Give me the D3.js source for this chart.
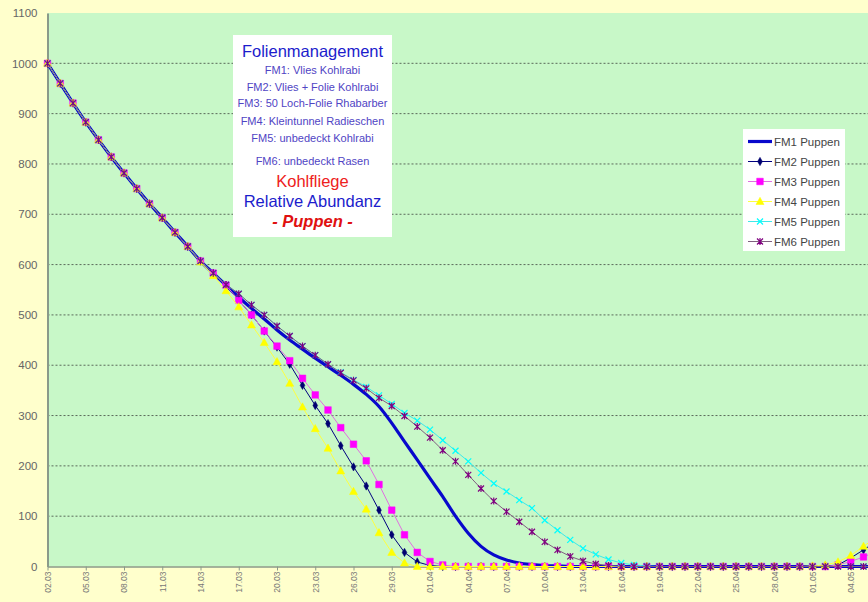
<!DOCTYPE html>
<html>
<head>
<meta charset="utf-8">
<script src="https://cdn.jsdelivr.net/npm/d3@7"></script>
<style>
  body { margin: 0; background: #ffffcc; }
  text { font-family: "Liberation Sans", Arial, sans-serif; }
</style>
</head>
<body>
<script>

var width = 868,
    height = 602;

// days 02.03 .. 06.05
var days = d3.timeDay.range(new Date(2009, 2, 2), new Date(2009, 4, 7));

var tickLabels = ["02.03", "05.03", "08.03", "11.03", "14.03", "17.03", "20.03", "23.03",
                  "26.03", "29.03", "01.04", "04.04", "07.04", "10.04", "13.04", "16.04",
                  "19.04", "22.04", "25.04", "28.04", "01.05", "04.05"];

var yTicks = [0, 100, 200, 300, 400, 500, 600, 700, 800, 900, 1000, 1100];

var seriesNames = ["FM1 Puppen", "FM2 Puppen", "FM3 Puppen", "FM4 Puppen", "FM5 Puppen", "FM6 Puppen"];

var fm1 = [1000,960,921,883,848,814,782,751,721,693,
           664,636,607,583,559,535,513,492,470,450,
           432,414,397,380,362,342,318,285,248,212,
           175,139,100,66,40,23,13,7,4,2,
           1,0,0,0,0,0,0,0,0,0,
           0,0,0,0,0,0,0,0,0,0,
           0,0,0,0,0,0];

var fm2 = [1000,960,921,883,848,814,782,751,721,693,
           664,636,607,583,559,529,500,468,436,402,
           360,320,284,240,198,160,112,63,28,9,
           2,0,0,0,0,0,0,0,0,0,
           0,0,0,0,0,0,0,0,0,0,
           0,0,0,0,0,0,0,0,0,0,
           0,1,3,17,33,50];

var fm3 = [1000,960,921,883,848,814,782,751,721,693,
           664,636,607,583,559,529,500,468,438,409,
           374,341,311,276,243,210,163,112,63,28,
           10,3,0,0,0,0,0,0,0,0,
           0,0,0,0,0,0,0,0,0,0,
           0,0,0,0,0,0,0,0,0,0,
           0,0,3,10,19,30];

var fm4 = [1000,960,921,883,848,814,782,751,721,693,
           664,636,605,578,548,516,480,445,407,364,
           317,274,235,190,149,114,67,28,7,0,
           0,0,0,0,0,0,0,0,0,0,
           0,0,0,0,0,0,0,0,0,0,
           0,0,0,0,0,0,0,0,0,0,
           1,3,9,22,40,58];

var fm5 = [1000,960,921,883,848,814,782,751,721,693,
           664,636,607,583,560,542,520,500,478,458,
           438,420,402,386,371,357,340,323,305,290,
           272,251,230,209,186,165,149,132,116,92,
           72,53,36,24,14,7,3,1,0,0,
           0,0,0,0,0,0,0,0,0,0,
           0,0,0,0,0,0];

var fm6 = [1000,960,921,883,848,814,782,751,721,693,
           664,636,607,583,560,542,520,500,478,458,
           438,420,402,385,370,354,335,319,299,278,
           256,231,209,182,155,130,109,89,69,49,
           33,20,11,5,2,0,0,0,0,0,
           0,0,0,0,0,0,0,0,0,0,
           0,0,0,0,0,0];

var seriesValues = [fm1, fm2, fm3, fm4, fm5, fm6];

// styles per series
var lineColors   = ["#0808cc", "#000080", "#e070e0", "#ffff40", "#40e8e8", "#806080"],
    markColors   = ["none", "#000070", "#ff00ff", "#ffff00", "#00ffff", "#800080"],
    markTypes    = ["none", "diamond", "square", "triangle", "x", "star"],
    lineWidths   = [3.2, 1, 1, 1, 1, 1];

var parseLabel = d3.timeParse("%d.%m.%Y");

var x = d3.scaleTime()
          .domain([days[0], days[days.length - 1]])
          .range([47.5, 47.5 + 12.75 * (days.length - 1)]);

var y = d3.scaleLinear()
          .domain([0, 1100])
          .range([566.5, 13]);

var svg = d3.select("body")
            .append("svg")
            .attr("width", width)
            .attr("height", height)
            .style("display", "block")
            .style("background", "#ffffcc");

// plot area
svg.append("rect")
   .attr("x", x.range()[0])
   .attr("y", y(1100))
   .attr("width", width + 40 - x.range()[0])
   .attr("height", y(0) - y(1100))
   .style("fill", "#c8f8c8");

// gridlines
svg.append("g")
   .selectAll("line")
   .data(yTicks.filter(function (d) { return d > 0 && d < 1100; }))
   .enter()
   .append("line")
   .attr("x1", x.range()[0])
   .attr("x2", width + 40)
   .attr("y1", function (d) { return y(d); })
   .attr("y2", function (d) { return y(d); })
   .style("stroke", "#5a6a5a")
   .style("stroke-width", 1)
   .style("stroke-dasharray", "2,2");

// y axis
var yAxis = d3.axisLeft(y)
              .tickValues(yTicks)
              .tickFormat(d3.format("d"))
              .tickSize(0)
              .tickPadding(10);

svg.append("g")
   .attr("transform", "translate(" + x.range()[0] + ",0)")
   .call(yAxis)
   .call(function (g) {
     g.select(".domain").style("stroke", "#8a9a8a").style("stroke-width", 2);
     g.selectAll("text").style("fill", "#666").style("font-size", "11.5px")
      .style("font-family", "'Liberation Sans', Arial, sans-serif");
   });

// x axis
var xAxis = d3.axisBottom(x)
              .tickValues(tickLabels.map(function (s) { return parseLabel(s + ".2009"); }))
              .tickFormat(d3.timeFormat("%d.%m"))
              .tickSizeInner(4)
              .tickSizeOuter(0);

svg.append("g")
   .attr("transform", "translate(0," + y(0) + ")")
   .call(xAxis)
   .call(function (g) {
     g.select(".domain").style("stroke", "#8a9a8a").style("stroke-width", 1.5);
     g.selectAll("line").style("stroke", "#8a9a8a");
     g.selectAll("text")
      .attr("transform", "rotate(-90)")
      .attr("x", -5)
      .attr("y", 0)
      .attr("dy", "0.35em")
      .style("text-anchor", "end")
      .style("fill", "#777")
      .style("font-size", "8.5px")
      .style("font-family", "'Liberation Sans', Arial, sans-serif");
   });

// marker shapes
function markerPath(type) {
  if (type == "diamond") return d3.symbol().type(d3.symbolDiamond).size(20)();
  if (type == "square") return "M-3.3,-3.3H3.3V3.3H-3.3Z";
  if (type == "triangle") return "M0,-4.2L4,3L-4,3Z";
  if (type == "x") return "M-3,-3L3,3M-3,3L3,-3";
  if (type == "star") return "M-3,-3L3,3M-3,3L3,-3M0,-3.5V3.5";
  return "";
}

var line = d3.line()
             .x(function (d, i) { return x(days[i]); })
             .y(function (d) { return y(d); });

var smoothLine = d3.line()
                   .x(function (d, i) { return x(days[i]); })
                   .y(function (d) { return y(d); })
                   .curve(d3.curveMonotoneX);

seriesValues.forEach(function (vals, s) {
  var g = svg.append("g");
  g.append("path")
   .attr("d", s == 0 ? smoothLine(vals) : line(vals))
   .style("fill", "none")
   .style("stroke", lineColors[s])
   .style("stroke-width", lineWidths[s]);

  if (markTypes[s] != "none") {
    var open = markTypes[s] == "x" || markTypes[s] == "star";
    g.selectAll("path.mk")
     .data(vals)
     .enter()
     .append("path")
     .attr("class", "mk")
     .attr("transform", function (d, i) { return "translate(" + x(days[i]) + "," + y(d) + ")"; })
     .attr("d", markerPath(markTypes[s]))
     .style("fill", open ? "none" : markColors[s])
     .style("stroke", markColors[s])
     .style("stroke-width", open ? 1.2 : 0.5);
  }
});

// title box
var box = svg.append("g");
box.append("rect")
   .attr("x", 233)
   .attr("y", 35)
   .attr("width", 159)
   .attr("height", 202)
   .style("fill", "white");

var boxLines = [
  {t: "Folienmanagement", y: 56.5, size: 16.5, col: "#1c1ccc", w: "normal", st: "normal"},
  {t: "FM1: Vlies Kohlrabi", y: 73.5, size: 11, col: "#5044c4", w: "normal", st: "normal"},
  {t: "FM2: Vlies + Folie Kohlrabi", y: 90.5, size: 11, col: "#5044c4", w: "normal", st: "normal"},
  {t: "FM3: 50 Loch-Folie Rhabarber", y: 107, size: 11, col: "#5044c4", w: "normal", st: "normal"},
  {t: "FM4: Kleintunnel Radieschen", y: 124.5, size: 11, col: "#5044c4", w: "normal", st: "normal"},
  {t: "FM5: unbedeckt Kohlrabi", y: 142, size: 11, col: "#5044c4", w: "normal", st: "normal"},
  {t: "FM6: unbedeckt Rasen", y: 164.5, size: 11, col: "#5044c4", w: "normal", st: "normal"},
  {t: "Kohlfliege", y: 186.5, size: 16.5, col: "#ee2020", w: "normal", st: "normal"},
  {t: "Relative Abundanz", y: 207, size: 16.5, col: "#1c1ccc", w: "normal", st: "normal"},
  {t: "- Puppen -", y: 227, size: 16.5, col: "#e01010", w: "bold", st: "italic"}
];

box.selectAll("text")
   .data(boxLines)
   .enter()
   .append("text")
   .attr("x", 312.5)
   .attr("y", function (d) { return d.y; })
   .attr("text-anchor", "middle")
   .style("font-size", function (d) { return d.size + "px"; })
   .style("font-weight", function (d) { return d.w; })
   .style("font-style", function (d) { return d.st; })
   .style("fill", function (d) { return d.col; })
   .text(function (d) { return d.t; });

// legend
var legend = svg.append("g");
legend.append("rect")
      .attr("x", 743)
      .attr("y", 129)
      .attr("width", 102)
      .attr("height", 122)
      .style("fill", "white");

var items = legend.selectAll("g.item")
                  .data(seriesNames)
                  .enter()
                  .append("g")
                  .attr("class", "item")
                  .attr("transform", function (d, i) { return "translate(0," + (141.5 + i * 20) + ")"; });

items.append("line")
     .attr("x1", 748)
     .attr("x2", 772)
     .style("stroke", function (d, i) { return lineColors[i]; })
     .style("stroke-width", function (d, i) { return lineWidths[i]; });

items.append("path")
     .attr("transform", "translate(760,0)")
     .attr("d", function (d, i) { return markerPath(markTypes[i]); })
     .style("fill", function (d, i) { return (markTypes[i] == "x" || markTypes[i] == "star") ? "none" : markColors[i]; })
     .style("stroke", function (d, i) { return markColors[i]; })
     .style("stroke-width", function (d, i) { return (markTypes[i] == "x" || markTypes[i] == "star") ? 1.2 : 0.5; });

items.append("text")
     .attr("x", 774)
     .attr("dy", "0.35em")
     .style("font-size", "11.5px")
     .style("fill", "#444")
     .text(function (d) { return d; });

</script>
</body>
</html>
